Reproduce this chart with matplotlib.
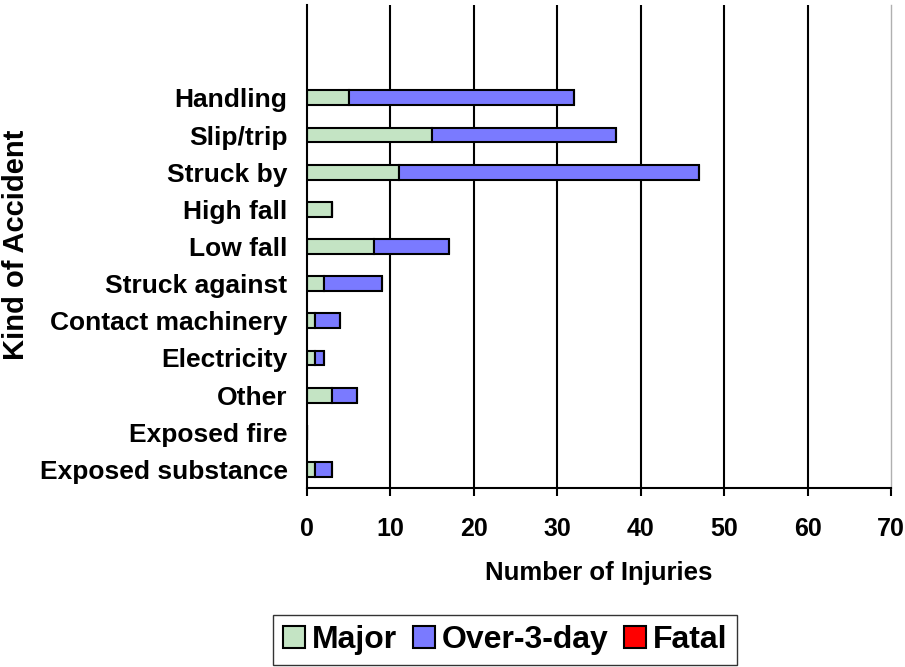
import numpy as np
import matplotlib
matplotlib.use('Agg')
import matplotlib.pyplot as plt

# Datos (de arriba hacia abajo)
categorias = ['Handling', 'Slip/trip', 'Struck by', 'High fall', 'Low fall',
              'Struck against', 'Contact machinery', 'Electricity', 'Other',
              'Exposed fire', 'Exposed substance']
major = [5, 15, 11, 3, 8, 2, 1, 1, 3, 0, 1]
over_3_day = [27, 22, 36, 0, 9, 7, 3, 1, 3, 0, 2]
fatal = [0, 0, 0, 0, 0, 0, 0, 0, 0, 0, 0]
ticks_x = [0, 10, 20, 30, 40, 50, 60, 70]

plt.rcParams['font.family'] = ['Liberation Sans', 'DejaVu Sans']
plt.rcParams['font.weight'] = 'bold'

fig = plt.figure(figsize=(9.05, 6.67), dpi=100)
ax = fig.add_axes([307 / 905, 1 - 488 / 667, 584 / 905, 483 / 667])

# posiciones: la primera categoria arriba
y = np.arange(len(categorias))[::-1]
major = np.array(major)
over_3_day = np.array(over_3_day)
fatal = np.array(fatal)

alto = 0.4
ax.barh(y, major, height=alto, color='#c4e4c4', edgecolor='black', linewidth=1.5, label='Major')
ax.barh(y, over_3_day, left=major, height=alto, color='#7a7aff', edgecolor='black', linewidth=1.5, label='Over-3-day')
ax.barh(y, fatal, left=major + over_3_day, height=alto, color='#ff0000', edgecolor='black', linewidth=1.5, label='Fatal')

ax.set_xlim(0, 70)
ax.set_ylim(-0.5, len(categorias) + 1.5)
ax.set_xticks(ticks_x)
ax.set_xticklabels([str(t) for t in ticks_x], fontsize=18, fontweight='bold')
ax.set_yticks(y)
ax.set_yticklabels(categorias, fontsize=19, fontweight='bold')

ax.set_axisbelow(True)
for t in ticks_x[1:-1]:
    ax.axvline(t, color='black', linewidth=1.5, zorder=0)

ax.spines['top'].set_visible(False)
ax.spines['right'].set_color('#b0b0b0')
ax.spines['right'].set_linewidth(1.0)
ax.spines['left'].set_linewidth(1.5)
ax.spines['bottom'].set_linewidth(1.5)
ax.tick_params(axis='x', direction='out', length=6, width=1.5, pad=15)
ax.tick_params(axis='y', length=0, pad=14)

ax.set_xlabel('Number of Injuries', fontsize=18.5, fontweight='bold', labelpad=14)
fig.text(16 / 905, 1 - 245 / 667, 'Kind of Accident', rotation=90,
         ha='center', va='center', fontsize=21, fontweight='bold')

leg = fig.legend(loc='center', bbox_to_anchor=(505 / 905, 1 - 640 / 667), ncol=3,
                 fontsize=23, frameon=True, fancybox=False, edgecolor='black',
                 handlelength=0.7, handleheight=0.7, handletextpad=0.2,
                 columnspacing=0.5, borderpad=0.3, borderaxespad=0)
leg.get_frame().set_linewidth(1.0)

plt.savefig('out.png', dpi=100)
